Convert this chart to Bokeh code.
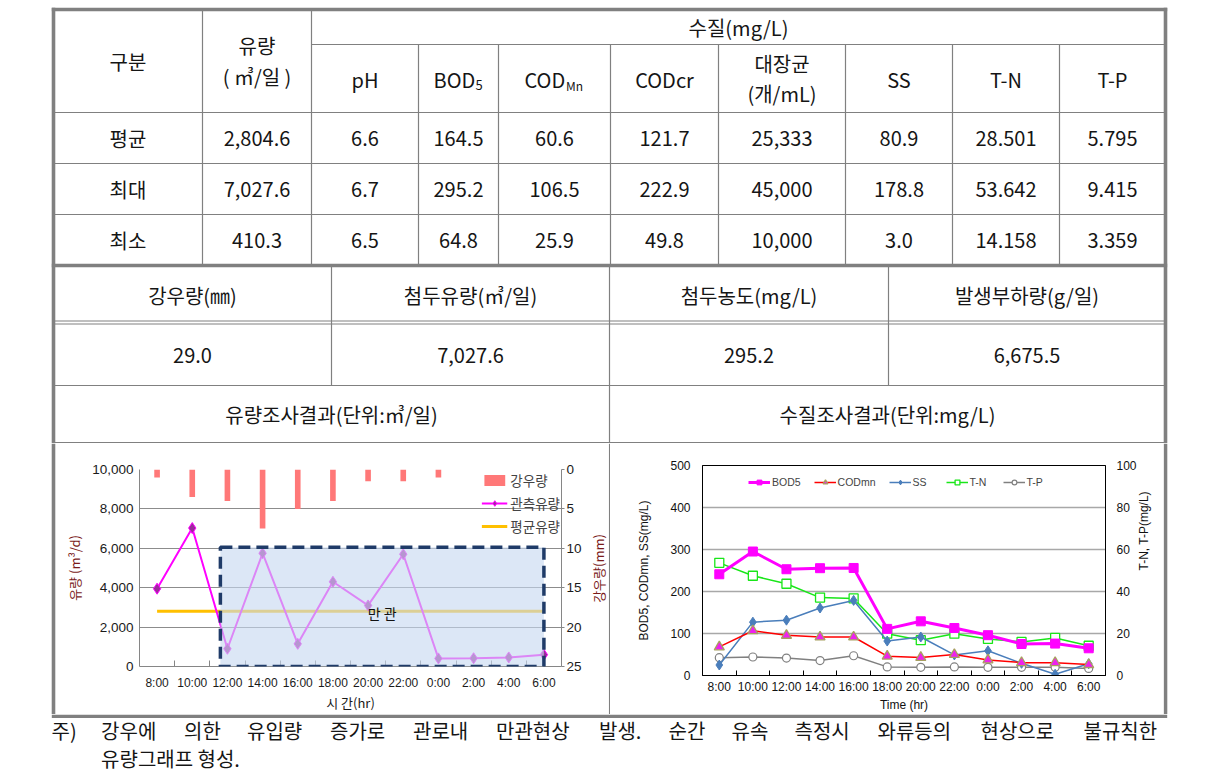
import math
from bokeh.plotting import figure
from bokeh.models import (Range1d, LinearAxis, FixedTicker, BoxAnnotation, Label,
                          Legend, LegendItem, NumeralTickFormatter)
from bokeh.layouts import column, row
from bokeh.embed import file_html
from bokeh.resources import INLINE
from bokeh.core.properties import value

# ---------------- data ----------------
hours = ["8:00", "10:00", "12:00", "14:00", "16:00", "18:00",
         "20:00", "22:00", "0:00", "2:00", "4:00", "6:00"]
rain_mm = [1.0, 3.5, 4.0, 7.5, 5.0, 4.0, 1.5, 1.5, 1.0, 0.0, 0.0, 0.0]
flow_obs = [3950, 7027.6, 900, 5750, 1150, 4300, 3100, 5700, 410.3, 420, 460, 600]
flow_avg = 2804.6
full_pipe_start = "12:00"
full_pipe_end = "6:00"
full_pipe_top = 6050

bod5 = [241, 295.2, 253, 255.5, 256, 111, 129, 113, 96, 75, 76, 64.8]
codmn = [68, 106.5, 95.6, 91.7, 91.7, 46, 43, 50, 37, 30.6, 30.6, 25.9]
ss = [25, 127, 131.7, 160.7, 178.8, 82, 91.7, 49, 58.8, 29, 3.0, 28]
tn = [53.642, 47.5, 43.7, 37.1, 36.7, 19.9, 16.8, 19.9, 17.4, 16.0, 17.9, 14.158]
tp = [8.5, 8.8, 8.3, 7.1, 9.415, 4.1, 3.9, 4.1, 3.9, 3.9, 3.9, 3.359]

stat_rows = ["평균", "최대", "최소"]
stat_flow = ["2,804.6", "7,027.6", "410.3"]
stat_ph = ["6.6", "6.7", "6.5"]
stat_bod = ["164.5", "295.2", "64.8"]
stat_codmn = ["60.6", "106.5", "25.9"]
stat_codcr = ["121.7", "222.9", "49.8"]
stat_coli = ["25,333", "45,000", "10,000"]
stat_ss = ["80.9", "178.8", "3.0"]
stat_tn = ["28.501", "53.642", "14.158"]
stat_tp = ["5.795", "9.415", "3.359"]

peak_heads = ["강우량(㎜)", "첨두유량(㎥/일)", "첨두농도(mg/L)", "발생부하량(g/일)"]
peak_vals = ["29.0", "7,027.6", "295.2", "6,675.5"]
chart_titles = ["유량조사결과(단위:㎥/일)", "수질조사결과(단위:mg/L)"]
rain_axis_title = "강우량(mm)"
note_line1 = "주) 강우에 의한 유입량 증가로 관로내 만관현상 발생. 순간 유속 측정시 와류등의 현상으로 불규칙한"
note_line2 = "유량그래프 형성."

# ---------------- style / geometry ----------------
KR = "Noto Sans CJK KR"
LAT = "Liberation Sans"
LINE = "#808080"
INK = "#151515"
TS = 20  # table font size

col_x = [53, 202, 311, 418, 498, 610, 718, 845, 952, 1059, 1165]
row_y = [9, 44, 112, 163, 214, 265]
sec_x = [53, 331, 609, 888, 1165]
sec_y = [265, 322, 385, 442]


def no_align(f):
    if "frame_align" in f.properties():
        f.frame_align = False
    return f


def blank(width, height, xr, yr):
    f = figure(width=width, height=height, x_range=Range1d(*xr), y_range=Range1d(*yr),
               output_backend="svg", toolbar_location=None, min_border=0,
               x_axis_location=None, y_axis_location=None)
    f.grid.visible = False
    f.outline_line_color = None
    f.border_fill_color = "white"
    f.background_fill_color = "white"
    return no_align(f)


def put(fig, xs, ys, texts, size, font=KR, align="center", color=INK, angle=0):
    fig.text(x=xs, y=ys, text=texts, text_font=value(font), text_font_size=f"{size}px",
             text_align=align, text_baseline="middle", text_color=color, angle=angle)


# ---------------- table figure ----------------
t = blank(1216, 443, (0, 1216), (443, 0))
x0s, y0s, x1s, y1s = [], [], [], []


def seg(a, b, c, d):
    x0s.append(a); y0s.append(b); x1s.append(c); y1s.append(d)


seg(col_x[2], row_y[1], col_x[-1], row_y[1])
for y in row_y[2:5]:
    seg(col_x[0], y, col_x[-1], y)
for x in col_x[1:3]:
    seg(x, row_y[0], x, row_y[-1])
for x in col_x[3:-1]:
    seg(x, row_y[1], x, row_y[-1])
seg(col_x[0], sec_y[1] - 1.5, col_x[-1], sec_y[1] - 1.5)
seg(col_x[0], sec_y[1] + 1.5, col_x[-1], sec_y[1] + 1.5)
seg(col_x[0], sec_y[2], col_x[-1], sec_y[2])
seg(col_x[0], sec_y[3], col_x[-1], sec_y[3])
seg(sec_x[1], sec_y[0], sec_x[1], sec_y[2])
seg(sec_x[3], sec_y[0], sec_x[3], sec_y[2])
seg(sec_x[2], sec_y[0], sec_x[2], 443)
t.segment(x0s, y0s, x1s, y1s, line_color=LINE, line_width=1.2)

t.segment([51.3, 53, 1165, 51.3], [9, 7.3, 7.3, 265], [1166.7, 53, 1165, 1166.7], [9, 443, 443, 265],
          line_color=LINE, line_width=3.6)

cx = [(col_x[i] + col_x[i + 1]) / 2 for i in range(len(col_x) - 1)]
hy = (row_y[1] + row_y[2]) / 2 + 0.5
put(t, [cx[0]], [(row_y[0] + row_y[2]) / 2], ["구분"], TS)
put(t, [cx[1], cx[1]], [45, 76], ["유량", "( ㎥/일 )"], TS)
put(t, [(col_x[2] + col_x[-1]) / 2], [(row_y[0] + row_y[1]) / 2 + 0.5], ["수질(mg/L)"], TS)
put(t, [cx[2], cx[5], cx[7], cx[8], cx[9]], [hy] * 5, ["pH", "CODcr", "SS", "T-N", "T-P"], TS)
put(t, [cx[6], cx[6]], [63, 93], ["대장균", "(개/mL)"], TS)
# BOD5 and COD_Mn with subscripts
put(t, [cx[3] - 25], [hy], ["BOD"], TS, align="left")
put(t, [cx[3] + 17], [hy + 6], ["5"], 13, align="left")
put(t, [cx[4] - 30], [hy], ["COD"], TS, align="left")
put(t, [cx[4] + 11.5], [hy + 6], ["Mn"], 12, align="left")

cols = [stat_flow, stat_ph, stat_bod, stat_codmn, stat_codcr, stat_coli, stat_ss, stat_tn, stat_tp]
ry = [(row_y[i] + row_y[i + 1]) / 2 for i in range(2, 5)]
put(t, [cx[0]] * 3, ry, stat_rows, TS)
for ci, vals in enumerate(cols):
    put(t, [cx[ci + 1]] * 3, ry, vals, TS)

scx = [(sec_x[i] + sec_x[i + 1]) / 2 for i in range(4)]
put(t, scx, [(sec_y[0] + sec_y[1]) / 2 + 1] * 4, peak_heads, TS)
put(t, scx, [(sec_y[1] + sec_y[2]) / 2 + 1] * 4, peak_vals, TS)
put(t, [(sec_x[0] + sec_x[2]) / 2, (sec_x[2] + sec_x[4]) / 2], [(sec_y[2] + sec_y[3]) / 2] * 2,
    chart_titles, TS)

# ---------------- chart 1: flow ----------------
ix = list(range(len(hours)))
c1 = figure(width=534, height=271, x_range=Range1d(-0.5, len(hours) - 0.5), y_range=Range1d(0, 10000),
            output_backend="svg", toolbar_location=None,
            min_border_left=83, min_border_right=29, min_border_top=26, min_border_bottom=47)
no_align(c1)
c1.outline_line_color = None
c1.xgrid.visible = False
xt = FixedTicker(ticks=ix, minor_ticks=[i + 0.5 for i in ix[:-1]])
c1.xaxis.ticker = xt
c1.xaxis.major_label_overrides = {i: h for i, h in enumerate(hours)}
c1.xaxis.major_tick_in = 0
c1.xaxis.major_tick_out = 0
c1.xaxis.minor_tick_in = 6
c1.xaxis.minor_tick_out = 0
c1.xaxis.axis_label = "시 간(hr)"
yt = FixedTicker(ticks=[0, 2000, 4000, 6000, 8000, 10000])
c1.yaxis.ticker = yt
c1.ygrid.ticker = yt
c1.yaxis.formatter = NumeralTickFormatter(format="0,0")
c1.yaxis.major_tick_in = 0
c1.yaxis.major_tick_out = 0
c1.yaxis.minor_tick_out = 0
c1.yaxis.minor_tick_in = 0
c1.yaxis.axis_label = "유량 (m³/d)"
c1.ygrid.grid_line_color = "#8c8c8c"
c1.extra_y_ranges = {"rain": Range1d(25, 0)}
rax = LinearAxis(y_range_name="rain", ticker=FixedTicker(ticks=[0, 5, 10, 15, 20, 25]))
c1.add_layout(rax, "right")
rax.major_tick_in = 0
rax.major_tick_out = 3
rax.minor_tick_out = 0
rax.minor_tick_in = 0
for ax in c1.axis:
    ax.axis_line_color = "#868686"
    ax.major_tick_line_color = "#868686"
    ax.minor_tick_line_color = "#868686"
    ax.major_label_text_font = LAT
    ax.major_label_text_font_size = "12.5px"
    ax.major_label_text_color = "#1a1a1a"
    ax.axis_label_text_font = KR
    ax.axis_label_text_font_size = "13px"
    ax.axis_label_text_font_style = "normal"
c1.xaxis.major_label_text_font_size = "12px"
c1.yaxis.major_label_text_font_size = "13.5px"
c1.xaxis.major_label_standoff = 9
c1.xaxis.axis_label_standoff = 0
c1.xaxis.axis_label_text_color = "#1a1a1a"
c1.yaxis.major_label_standoff = 6
c1.yaxis.axis_label_standoff = 5
c1.yaxis.axis_label_text_color = "#7a1a1a"
rax.major_label_standoff = 2

r_rain = c1.vbar(x=ix, top=0, bottom=rain_mm, width=0.16, y_range_name="rain",
                 fill_color="#ff7878", line_color=None)
r_avg = c1.line(ix, [flow_avg] * len(ix), line_color="#ffc000", line_width=3)
r_obs = c1.line(ix, flow_obs, line_color="#ff00ff", line_width=2)
r_obs_m = c1.scatter(ix, flow_obs, marker="diamond", size=11, fill_color="#9b2c9b",
                     line_color="#ff00ff", line_width=1)
box_left = hours.index(full_pipe_start) - 0.2
box_right = hours.index(full_pipe_end)
c1.add_layout(BoxAnnotation(left=box_left, right=box_right, bottom=0, top=full_pipe_top,
                            fill_color="#c6d9f1", fill_alpha=0.62, line_color="#1f3b68",
                            line_alpha=1.0, line_width=3.5, line_dash="12 6"))
c1.add_layout(Label(x=(box_left + box_right) / 2, y=2700, text="만 관", text_align="center",
                    text_baseline="middle", text_font=KR, text_font_size="14px", text_color="#111111"))
leg1 = Legend(items=[LegendItem(label="강우량", renderers=[r_rain]),
                     LegendItem(label="관측유량", renderers=[r_obs, r_obs_m]),
                     LegendItem(label="평균유량", renderers=[r_avg])],
              location="top_right", label_text_font=KR, label_text_font_size="13.5px",
              glyph_width=26, glyph_height=14, label_height=20, spacing=3, padding=2, margin=1,
              label_standoff=3, border_line_color=None, background_fill_alpha=0)
c1.add_layout(leg1)

# title of the rain (right) axis, in a narrow strip next to chart 1
rl = blank(18, 271, (590, 608), (714, 443))
put(rl, [598], [568], [rain_axis_title], 13, color="#7a1a1a", angle=math.pi / 2)

# ---------------- chart 2: water quality ----------------
c2 = figure(width=553, height=271, x_range=Range1d(-0.5, len(hours) - 0.5), y_range=Range1d(0, 500),
            output_backend="svg", toolbar_location=None,
            min_border_left=92, min_border_right=58, min_border_top=22, min_border_bottom=36)
no_align(c2)
c2.outline_line_color = "black"
c2.outline_line_width = 1
c2.xgrid.visible = False
xt2 = FixedTicker(ticks=ix, minor_ticks=[i + 0.5 for i in ix[:-1]])
c2.xaxis.ticker = xt2
c2.xaxis.major_label_overrides = {i: h for i, h in enumerate(hours)}
c2.xaxis.major_tick_in = 0
c2.xaxis.major_tick_out = 0
c2.xaxis.minor_tick_in = 5
c2.xaxis.minor_tick_out = 0
c2.xaxis.axis_label = "Time (hr)"
yt2 = FixedTicker(ticks=[0, 100, 200, 300, 400, 500])
c2.yaxis.ticker = yt2
c2.ygrid.ticker = yt2
c2.ygrid.grid_line_color = "#a8a8a8"
c2.ygrid.grid_line_width = 1.5
c2.yaxis.axis_label = "BOD5, CODmn, SS(mg/L)"
c2.yaxis.major_tick_in = 0
c2.yaxis.major_tick_out = 0
c2.yaxis.minor_tick_in = 0
c2.yaxis.minor_tick_out = 0
c2.extra_y_ranges = {"n": Range1d(0, 100)}
nax = LinearAxis(y_range_name="n", ticker=FixedTicker(ticks=[0, 20, 40, 60, 80, 100]),
                 axis_label="T-N, T-P(mg/L)")
c2.add_layout(nax, "right")
if "axis_label_orientation" in nax.properties():
    nax.axis_label_orientation = math.pi / 2
nax.major_tick_in = 0
nax.major_tick_out = 0
nax.minor_tick_in = 0
nax.minor_tick_out = 0
for ax in c2.axis:
    ax.axis_line_color = "black"
    ax.major_tick_line_color = "black"
    ax.minor_tick_line_color = "black"
    ax.major_label_text_font = LAT
    ax.major_label_text_font_size = "12px"
    ax.major_label_text_color = "#111111"
    ax.axis_label_text_font = LAT
    ax.axis_label_text_font_size = "12px"
    ax.axis_label_text_font_style = "normal"
    ax.axis_label_text_color = "#111111"
c2.xaxis.major_label_standoff = 4
c2.xaxis.axis_label_standoff = 1
c2.yaxis.major_label_standoff = 12
c2.yaxis.axis_label_standoff = 16
nax.major_label_standoff = 11
nax.axis_label_standoff = 4

r_tp = c2.line(ix, tp, y_range_name="n", line_color="#808080", line_width=1.5)
r_tp_m = c2.scatter(ix, tp, y_range_name="n", marker="circle", size=8, fill_color="white",
                    line_color="#808080", line_width=1.2)
r_tn = c2.line(ix, tn, y_range_name="n", line_color="#19e619", line_width=1.5)
r_tn_m = c2.scatter(ix, tn, y_range_name="n", marker="square", size=9, fill_color="white",
                    line_color="#19e619", line_width=1.3)
r_ss = c2.line(ix, ss, line_color="#4a7ebb", line_width=1.5)
r_ss_m = c2.scatter(ix, ss, marker="diamond", size=10, fill_color="#4a7ebb", line_color="#4a7ebb")
r_cod = c2.line(ix, codmn, line_color="#ff0000", line_width=1.5)
r_cod_m = c2.scatter(ix, codmn, marker="triangle", size=10, fill_color="#ee22ee",
                     line_color="#a8a060", line_width=1.3)
r_bod = c2.line(ix, bod5, line_color="#ff00ff", line_width=3)
r_bod_m = c2.scatter(ix, bod5, marker="square", size=9, fill_color="#ff00ff", line_color="#ff00ff")
leg2 = Legend(items=[LegendItem(label="BOD5", renderers=[r_bod, r_bod_m]),
                     LegendItem(label="CODmn", renderers=[r_cod, r_cod_m]),
                     LegendItem(label="SS", renderers=[r_ss, r_ss_m]),
                     LegendItem(label="T-N", renderers=[r_tn, r_tn_m]),
                     LegendItem(label="T-P", renderers=[r_tp, r_tp_m])],
              location=(46, 186), orientation="horizontal", label_text_font=LAT,
              label_text_font_size="10.5px", glyph_width=22, glyph_height=12, label_height=14,
              spacing=13, padding=3, margin=0, label_standoff=2,
              border_line_color=None, background_fill_alpha=0)
c2.add_layout(leg2)

# ---------------- border pieces around chart cells ----------------
lp = blank(56, 271, (0, 56), (714, 443))
lp.segment([53], [443], [53], [714], line_color=LINE, line_width=3.6)
dv = blank(2, 271, (608, 610), (714, 443))
dv.segment([609], [443], [609], [714], line_color=LINE, line_width=1.2)
rp = blank(53, 271, (1163, 1216), (714, 443))
rp.segment([1165], [443], [1165], [714], line_color=LINE, line_width=3.6)

# ---------------- footnote ----------------
fn = blank(1216, 60, (0, 1216), (774, 714))
fn.segment([51.3], [715.8], [1166.7], [715.8], line_color=LINE, line_width=3.6)


def est_w(s, size):
    w = 0.0
    for ch in s:
        if '\uac00' <= ch <= '\ud7a3':
            w += size
        else:
            w += size * 0.33
    return w


words = note_line1.split(" ")
x_start, x_end = 51, 1163
total = sum(est_w(w, TS) for w in words)
gap = (x_end - x_start - total) / (len(words) - 1)
wx = []
cur = x_start
for w in words:
    wx.append(cur)
    cur += est_w(w, TS) + gap
put(fn, wx, [730] * len(words), words, TS, align="left")
put(fn, [wx[1]], [758], [note_line2], TS, align="left")

layout = column(t, row(lp, c1, rl, dv, c2, rp), fn)
open("out.html", "w").write(file_html(layout, INLINE))
